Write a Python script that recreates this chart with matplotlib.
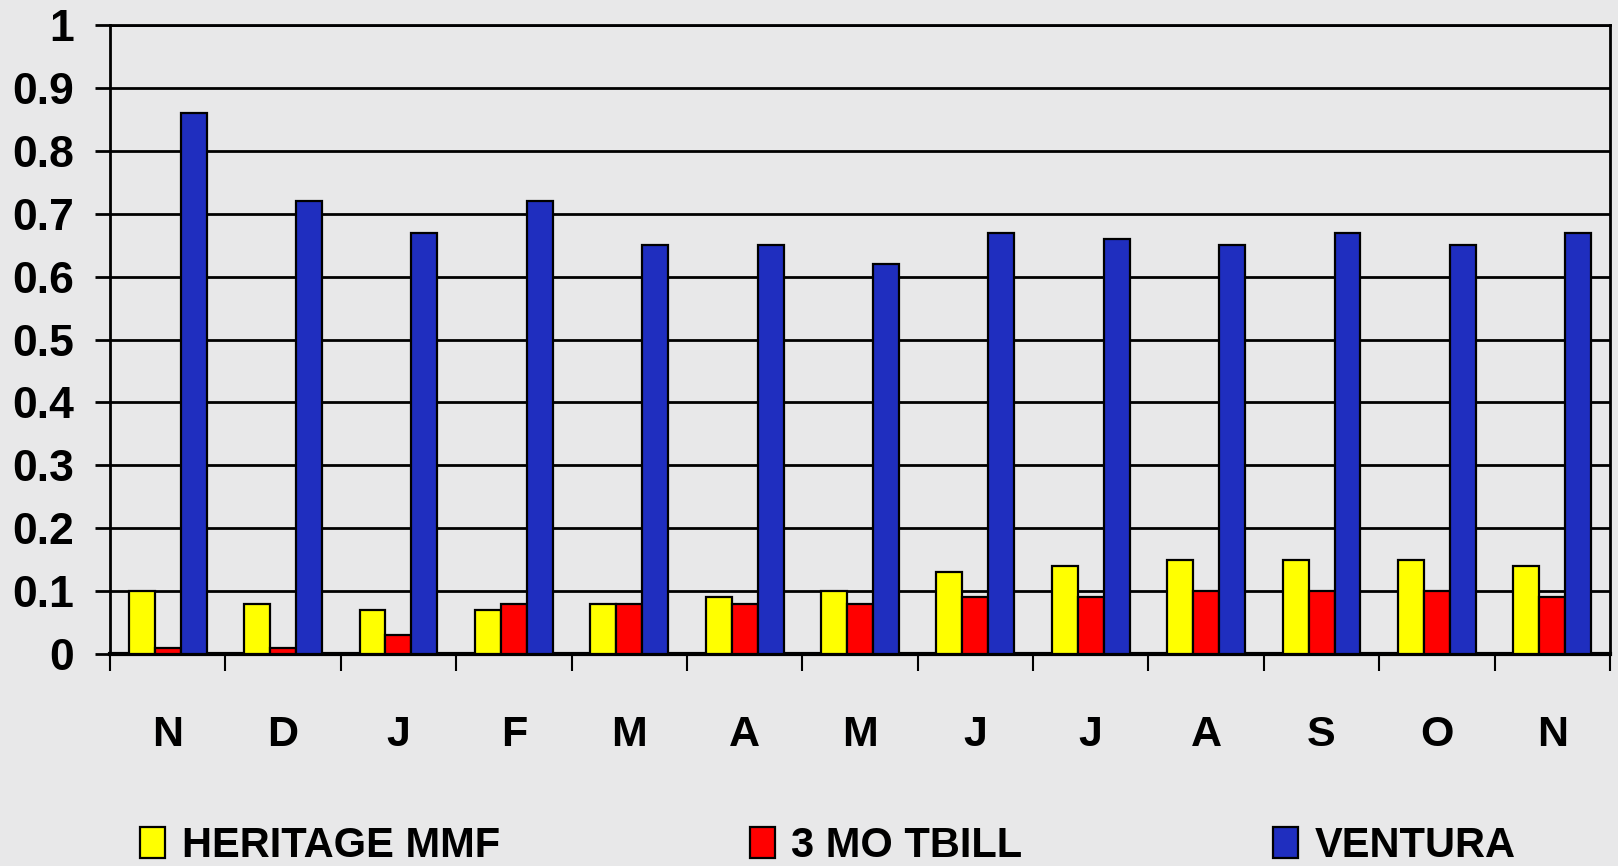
import numpy as np
import matplotlib
matplotlib.use('Agg')
import matplotlib.pyplot as plt

plt.rcParams['font.family'] = ['Liberation Sans', 'DejaVu Sans']
plt.rcParams['font.weight'] = 'bold'

months = ['N', 'D', 'J', 'F', 'M', 'A', 'M', 'J', 'J', 'A', 'S', 'O', 'N']
heritage = [0.10, 0.08, 0.07, 0.07, 0.08, 0.09, 0.10, 0.13, 0.14, 0.15, 0.15, 0.15, 0.14]
tbill = [0.01, 0.01, 0.03, 0.08, 0.08, 0.08, 0.08, 0.09, 0.09, 0.10, 0.10, 0.10, 0.09]
ventura = [0.86, 0.72, 0.67, 0.72, 0.65, 0.65, 0.62, 0.67, 0.66, 0.65, 0.67, 0.65, 0.67]
names = ['HERITAGE MMF', '3 MO TBILL', 'VENTURA']
colors = ['#ffff00', '#ff0000', '#1f2ebf']

bg = '#e8e8e9'
fig = plt.figure(figsize=(16.18, 8.66), dpi=100, facecolor=bg)
ax = fig.add_axes([110/1618, 1 - 654/866, 1500/1618, 629/866])
ax.set_facecolor(bg)

x = np.arange(len(months))
w = 0.225
for i, (vals, c, n) in enumerate(zip([heritage, tbill, ventura], colors, names)):
    ax.bar(x + (i - 1) * w, vals, w, color=c, edgecolor='black', linewidth=1.6,
           label=n, zorder=3)

ax.set_xlim(-0.5, len(months) - 0.5)
ax.set_ylim(0, 1)
ax.set_yticks(np.arange(0, 1.01, 0.1))
ax.set_yticklabels(['0'] + ['%.1f' % v for v in np.arange(0.1, 0.95, 0.1)] + ['1'])
ax.grid(axis='y', color='black', linewidth=2, zorder=1)
ax.tick_params(axis='y', length=11, width=2, pad=15, labelsize=32)

ax.set_xticks(np.arange(-0.5, len(months), 1.0))
ax.set_xticklabels([])
ax.tick_params(axis='x', which='major', length=12, width=1.5, direction='out')
ax.set_xticks(x, minor=True)
ax.set_xticklabels(months, minor=True)
ax.tick_params(axis='x', which='minor', length=0, pad=44, labelsize=31)

for s in ['left', 'right', 'top']:
    ax.spines[s].set_linewidth(2)
ax.spines['bottom'].set_linewidth(3)

h, l = ax.get_legend_handles_labels()
fig.legend(h, l, loc='center left', bbox_to_anchor=(140/1618, 20/866), ncol=3,
           frameon=False, fontsize=30, borderpad=0, borderaxespad=0,
           handlelength=0.6, handleheight=0.75, handletextpad=0.4,
           columnspacing=6.0)

fig.savefig('out.png', dpi=100, facecolor=bg)
